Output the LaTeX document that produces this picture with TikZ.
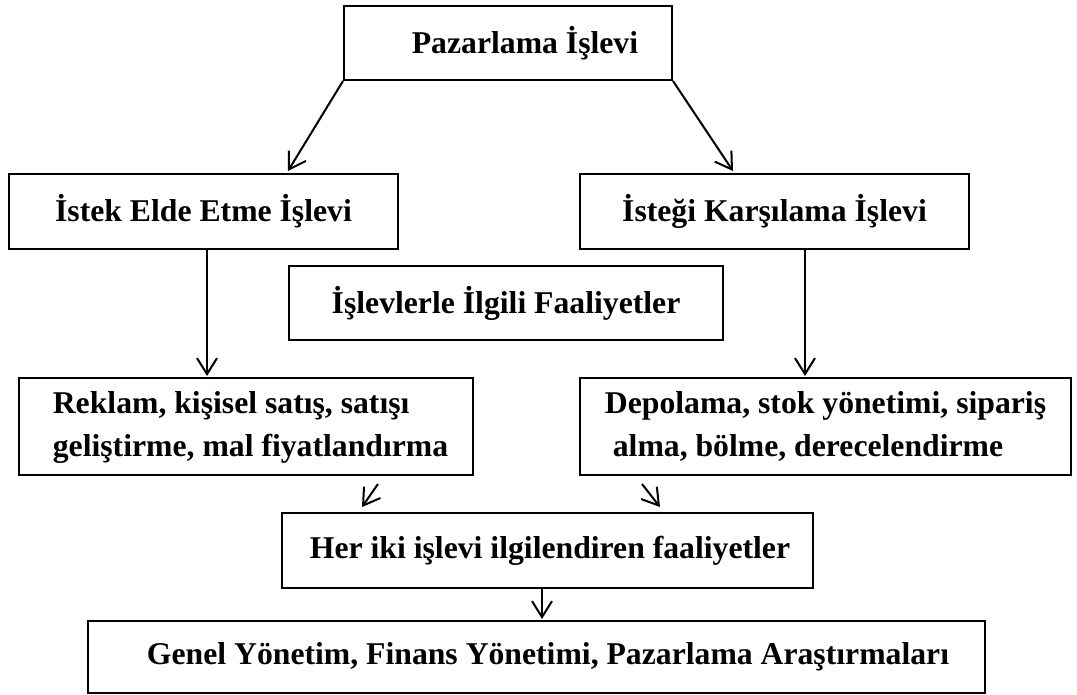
\documentclass[tikz,border=0pt]{standalone}
\usepackage{fontspec}
\setmainfont{Liberation Serif}
\usetikzlibrary{arrows.meta}
\tikzset{
  box/.style={draw, line width=2pt, rectangle, inner sep=0pt, align=center,
    font=\fontsize{31.7}{43}\selectfont\bfseries},
  arr/.style={line width=2pt, -{Straight Barb[length=16pt,width=20pt,line width=2pt]}},
}
\begin{document}
\begin{tikzpicture}[x=1pt,y=-1pt]
\useasboundingbox (0,0) rectangle (1077,695);
\fill[white] (0,0) rectangle (1077,695);
% boxes
\node[box, minimum width=328, minimum height=74] (top) at (508,43) {\hspace*{34pt}Pazarlama İşlevi};
\node[box, minimum width=389, minimum height=75] (istek) at (203.5,211.5) {İstek Elde Etme İşlevi};
\node[box, minimum width=389, minimum height=75] (istegi) at (774.5,211.5) {İsteği Karşılama İşlevi};
\node[box, minimum width=434, minimum height=74] (islev) at (506,303) {İşlevlerle İlgili Faaliyetler};
\node[box, minimum width=454, minimum height=97] (rek) at (246,426.5)
  {\hspace*{9pt}\begin{tabular}{@{}l@{}}Reklam, kişisel satış, satışı\\[-0.5pt]geliştirme, mal fiyatlandırma\end{tabular}};
\node[box, minimum width=491, minimum height=97] (dep) at (825.5,426.5)
  {\begin{tabular}{@{}l@{}}Depolama, stok yönetimi, sipariş\\[-0.5pt]\ alma, bölme, derecelendirme\end{tabular}};
\node[box, minimum width=531, minimum height=75] (her) at (547.5,550.5) {\hspace*{5pt}Her iki işlevi ilgilendiren faaliyetler};
\node[box, minimum width=897, minimum height=72] (gen) at (536.5,657) {\hspace*{23pt}Genel Yönetim, Finans Yönetimi, Pazarlama Araştırmaları};
% connectors
\draw[arr] (top.south west) -- ([shift={(84.5,-2)}]istek.north);
\draw[arr] (top.south east) -- ([shift={(-41.5,-2)}]istegi.north);
\coordinate (a1) at ([shift={(3.5,0)}]istek.south);
\draw[arr] (a1) -- ([yshift=1pt]a1 |- rek.north);
\coordinate (a2) at ([shift={(30.5,0)}]istegi.south);
\draw[arr] (a2) -- ([yshift=1pt]a2 |- dep.north);
\draw[arr] ([shift={(132,8)}]rek.south) -- ([shift={(-185.5,-5)}]her.north);
\draw[arr] ([shift={(-183.5,8)}]dep.south) -- ([shift={(112.5,-5)}]her.north);
\coordinate (a3) at ([shift={(-5.5,0)}]her.south);
\draw[arr] (a3) -- ([yshift=1pt]a3 |- gen.north);
\end{tikzpicture}
\end{document}
